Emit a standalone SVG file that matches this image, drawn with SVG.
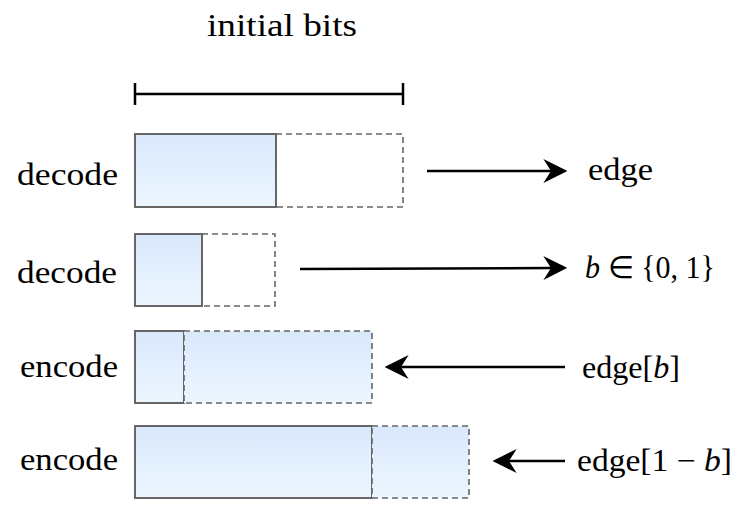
<svg xmlns="http://www.w3.org/2000/svg" width="747" height="505" viewBox="0 0 747 505">
  <style>
    .lbl { font-family: 'Liberation Serif', 'Times New Roman', serif; font-size: 31px; fill: #000; }
    .solid { stroke: #666666; stroke-width: 2; fill: url(#blue); }
    .dash { stroke: #666666; stroke-width: 1.6; stroke-dasharray: 6 4; }
    .empty { fill: none; }
    .filled { fill: url(#blue); }
    .conn { stroke: #000; stroke-width: 2.5; fill: none; marker-end: url(#arr); }
    .it { font-style: italic; }
  </style>
  <defs>
    <linearGradient id="blue" x1="0" y1="0" x2="0" y2="1">
      <stop offset="0" stop-color="#dae8fc"/>
      <stop offset="1" stop-color="#ecf6ff"/>
    </linearGradient>
    <marker id="arr" markerUnits="userSpaceOnUse" markerWidth="24" markerHeight="24" viewBox="0 0 22 22" refX="7" refY="11" orient="auto">
      <path d="M0,0 L22,11 L0,22 L7,11 Z" fill="#000"/>
    </marker>
  </defs>
  <rect width="747" height="505" fill="#ffffff"/>

  <g id="header">
    <text class="lbl" x="207" y="36" textLength="150" lengthAdjust="spacingAndGlyphs">initial bits</text>
    <path d="M135,94 H403 M135,83 V105 M403,83 V105" stroke="#000" stroke-width="2.5" fill="none"/>
  </g>

  <g id="row1">
    <text class="lbl" x="17" y="185" textLength="101" lengthAdjust="spacingAndGlyphs">decode</text>
    <rect class="dash empty" x="276" y="134" width="127" height="73"/>
    <rect class="solid" x="135" y="134" width="141" height="73"/>
    <text class="lbl" x="588" y="180" textLength="65" lengthAdjust="spacingAndGlyphs">edge</text>
  </g>

  <g id="row2">
    <text class="lbl" x="17" y="283" textLength="100" lengthAdjust="spacingAndGlyphs">decode</text>
    <rect class="dash empty" x="202" y="234" width="73" height="72"/>
    <rect class="solid" x="135" y="234" width="67" height="72"/>
    <text class="lbl" x="585" y="278" textLength="130" lengthAdjust="spacingAndGlyphs"><tspan class="it">b</tspan> ∈ {0, 1}</text>
  </g>

  <g id="row3">
    <text class="lbl" x="20" y="377" textLength="98" lengthAdjust="spacingAndGlyphs">encode</text>
    <rect class="solid" x="135" y="331" width="49" height="72"/>
    <rect class="dash filled" x="184" y="331" width="188" height="72"/>
    <text class="lbl" x="582" y="378" textLength="98" lengthAdjust="spacingAndGlyphs">edge[<tspan class="it">b</tspan>]</text>
  </g>

  <g id="row4">
    <text class="lbl" x="20" y="470" textLength="98" lengthAdjust="spacingAndGlyphs">encode</text>
    <rect class="solid" x="135" y="426" width="237" height="72"/>
    <rect class="dash filled" x="372" y="426" width="97" height="72"/>
    <text class="lbl" x="577" y="471" textLength="155" lengthAdjust="spacingAndGlyphs">edge[1 − <tspan class="it">b</tspan>]</text>
  </g>

  <g id="connectors">
    <path class="conn" d="M427,171 H551"/>
    <path class="conn" d="M300,269 L551,268"/>
    <path class="conn" d="M565,367 H401"/>
    <path class="conn" d="M565,461 H509"/>
  </g>
</svg>
